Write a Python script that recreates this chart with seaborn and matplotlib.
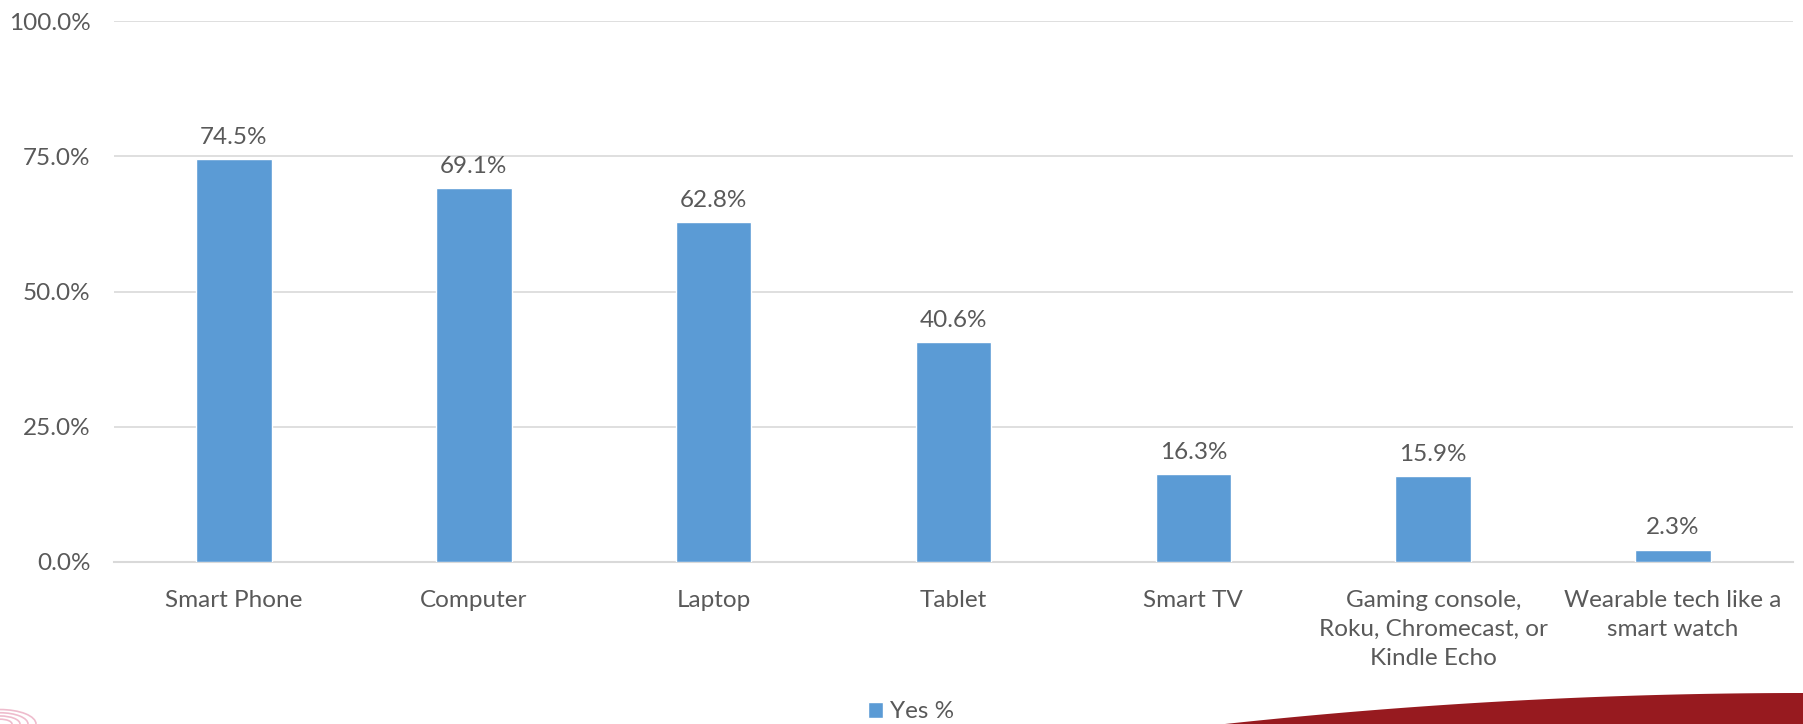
import matplotlib
matplotlib.use("Agg")
import matplotlib.pyplot as plt
import seaborn as sns
import numpy as np
from matplotlib.ticker import PercentFormatter, MultipleLocator
from matplotlib.patches import Polygon, Circle

categories = [
    "Smart Phone",
    "Computer",
    "Laptop",
    "Tablet",
    "Smart TV",
    "Gaming console,\nRoku, Chromecast, or\nKindle Echo",
    "Wearable tech like a\nsmart watch",
]
yes_pct = [74.5, 69.1, 62.8, 40.6, 16.3, 15.9, 2.3]
series_name = "Yes %"

BAR = "#5B9BD5"
TXT = "#595959"
GRID = "#D9D9D9"
FS = 17.5

sns.set_style("white")
plt.rcParams["font.family"] = ["Lato", "DejaVu Sans"]
plt.rcParams["font.size"] = FS

fig = plt.figure(figsize=(18.03, 7.24), dpi=100)
ax = fig.add_axes([114 / 1803, 1 - 562 / 724, (1793 - 114) / 1803, (562 - 21) / 724])

sns.barplot(x=categories, y=yes_pct, color=BAR, width=0.315, ax=ax,
            label=series_name, saturation=1, zorder=3)

ax.set_ylim(0, 100)
ax.set_xlim(-0.5, len(categories) - 0.5)
ax.yaxis.set_major_locator(MultipleLocator(25))
ax.yaxis.set_major_formatter(PercentFormatter(100, decimals=1))
ax.grid(axis="y", color=GRID, linewidth=1.2, zorder=0)
ax.grid(axis="x", visible=False)
for s in ["top", "right", "left"]:
    ax.spines[s].set_visible(False)
ax.spines["bottom"].set_color(GRID)
ax.spines["bottom"].set_linewidth(1.5)
ax.tick_params(axis="both", length=0, colors=TXT, labelsize=FS)
ax.tick_params(axis="y", pad=17)
ax.tick_params(axis="x", pad=20)
ax.set_xticks(range(len(categories)))
ax.set_xticklabels(categories, linespacing=1.47)
ax.set_xlabel("")
ax.set_ylabel("")

ax.bar_label(ax.containers[0], labels=[f"{v:.1f}%" for v in yes_pct],
             padding=8, color=TXT, fontsize=FS)

leg = ax.legend(loc="center", bbox_to_anchor=(911 / 1803, 1 - 712 / 724),
                bbox_transform=fig.transFigure, frameon=False, fontsize=FS,
                handlelength=0.62, handleheight=0.62, handletextpad=0.3,
                borderpad=0)
for t in leg.get_texts():
    t.set_color(TXT)

# red swoosh at bottom right
W, H = 1803, 724
sx = np.linspace(1225, W, 60)
t = (sx - 1225) / (W - 1225)
sy = 724 - 31 * (1 - (1 - t) ** 2)
pts = [(x / W, 1 - y / H) for x, y in zip(sx, sy)] + [(1, 0), (1225 / W, 0)]
fig.patches.append(Polygon(pts, closed=True, transform=fig.transFigure,
                           facecolor="#971A1F", edgecolor="none"))

# faint logo rings at bottom left
for r in [12, 20, 28, 36]:
    fig.patches.append(Circle((0, 0), r / W, transform=fig.transFigure,
                              fill=False, edgecolor="#E8A0B8",
                              linewidth=1.2, alpha=0.7))

fig.savefig("out.png", dpi=100)
